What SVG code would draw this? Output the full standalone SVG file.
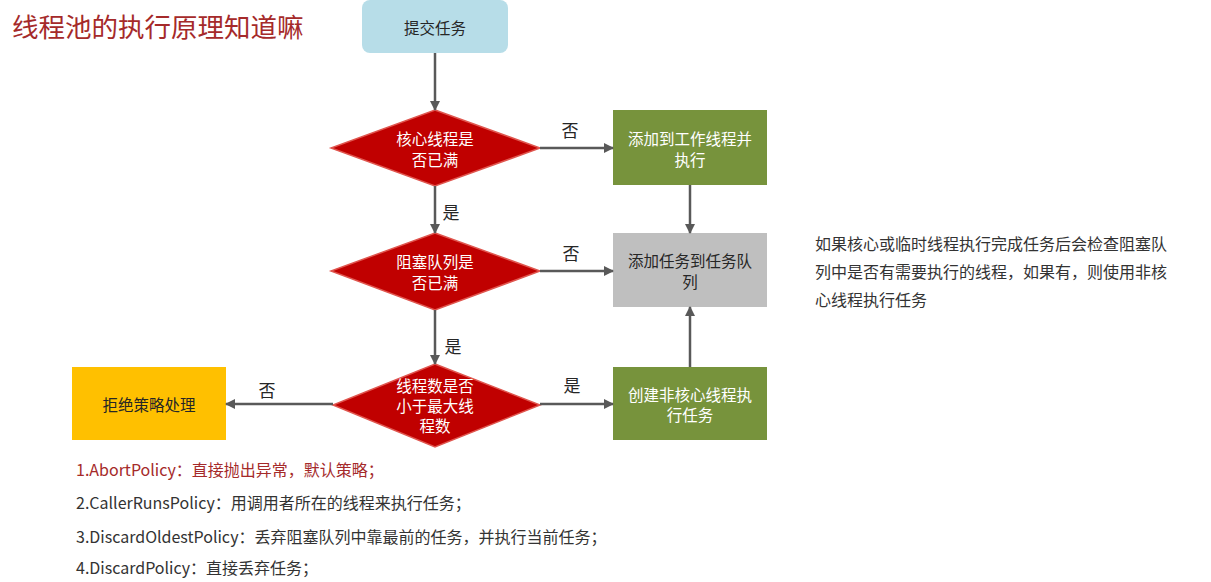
<svg xmlns="http://www.w3.org/2000/svg" width="1211" height="582" viewBox="0 0 1211 582">
<defs>
<marker id="ah" viewBox="0 0 10 10" refX="9" refY="5" markerWidth="4" markerHeight="4" orient="auto" markerUnits="strokeWidth">
<path d="M0,0 L10,5 L0,10 z" fill="#595959"/>
</marker>
</defs>
<style>
text{font-family:"Microsoft YaHei","Noto Sans CJK SC","Liberation Sans",sans-serif;}
.t{font-size:15.5px;text-anchor:middle;dominant-baseline:central;}
.w{fill:#ffffff;}
.d{fill:#262626;}
.dia{fill:#c00000;stroke:#e0564f;stroke-width:1.5;}
.grn{fill:#77933c;}
.lbl{font-size:17px;fill:#262626;text-anchor:middle;dominant-baseline:central;}
.conn line{stroke:#595959;stroke-width:2.5;marker-end:url(#ah);}
.note{font-size:16px;fill:#333333;}
</style>
<rect width="1211" height="582" fill="#ffffff"/>
<text x="12" y="37" style="font-size:26.5px;fill:#a52a2a;">线程池的执行原理知道嘛</text>

<g id="start">
<rect x="362" y="0" width="146" height="53" rx="8" fill="#b7dde8"/>
<text class="t d" x="435" y="27">提交任务</text>
</g>
<g id="d1">
<polygon class="dia" points="435,110 540,148 435,186 331,148"/>
<text class="t w" x="435" y="138">核心线程是</text>
<text class="t w" x="435" y="159">否已满</text>
</g>
<g id="addWorker">
<rect class="grn" x="613" y="110" width="154" height="75"/>
<text class="t w" x="690" y="138">添加到工作线程并</text>
<text class="t w" x="690" y="159">执行</text>
</g>
<g id="d2">
<polygon class="dia" points="435,233 540,271 435,310 331,271"/>
<text class="t w" x="435" y="261">阻塞队列是</text>
<text class="t w" x="435" y="282">否已满</text>
</g>
<g id="queue">
<rect x="613" y="233" width="154" height="74" fill="#bfbfbf"/>
<text class="t d" x="690" y="260">添加任务到任务队</text>
<text class="t d" x="690" y="281">列</text>
</g>
<g id="d3">
<polygon class="dia" points="435,364 540,405 435,447 333,405"/>
<text class="t w" x="435" y="385">线程数是否</text>
<text class="t w" x="435" y="405">小于最大线</text>
<text class="t w" x="435" y="425">程数</text>
</g>
<g id="reject">
<rect x="72" y="367" width="154" height="73" fill="#ffc000"/>
<text class="t d" x="149" y="404">拒绝策略处理</text>
</g>
<g id="nonCore">
<rect class="grn" x="613" y="367" width="154" height="73"/>
<text class="t w" x="690" y="394">创建非核心线程执</text>
<text class="t w" x="690" y="414">行任务</text>
</g>

<g id="connectors" class="conn">
<line x1="435" y1="53" x2="435" y2="110"/>
<line x1="540" y1="148" x2="613" y2="148"/>
<line x1="435" y1="186" x2="435" y2="233"/>
<line x1="690" y1="185" x2="690" y2="233"/>
<line x1="540" y1="271" x2="613" y2="271"/>
<line x1="435" y1="310" x2="435" y2="364"/>
<line x1="333" y1="404" x2="226" y2="404"/>
<line x1="540" y1="404" x2="613" y2="404"/>
<line x1="690" y1="367" x2="690" y2="307"/>
</g>
<g id="labels">
<text class="lbl" x="570" y="129">否</text>
<text class="lbl" x="451" y="211">是</text>
<text class="lbl" x="571" y="252">否</text>
<text class="lbl" x="453" y="345">是</text>
<text class="lbl" x="267" y="389">否</text>
<text class="lbl" x="572" y="384">是</text>
</g>

<g id="note">
<text class="note" x="815" y="250">如果核心或临时线程执行完成任务后会检查阻塞队</text>
<text class="note" x="815" y="278">列中是否有需要执行的线程，如果有，则使用非核</text>
<text class="note" x="815" y="306">心线程执行任务</text>
</g>
<g id="policies">
<text class="note" x="76" y="476" style="fill:#a52a2a;">1.AbortPolicy：直接抛出异常，默认策略；</text>
<text class="note" x="76" y="509">2.CallerRunsPolicy：用调用者所在的线程来执行任务；</text>
<text class="note" x="76" y="543">3.DiscardOldestPolicy：丢弃阻塞队列中靠最前的任务，并执行当前任务；</text>
<text class="note" x="76" y="574">4.DiscardPolicy：直接丢弃任务；</text>
</g>
</svg>
